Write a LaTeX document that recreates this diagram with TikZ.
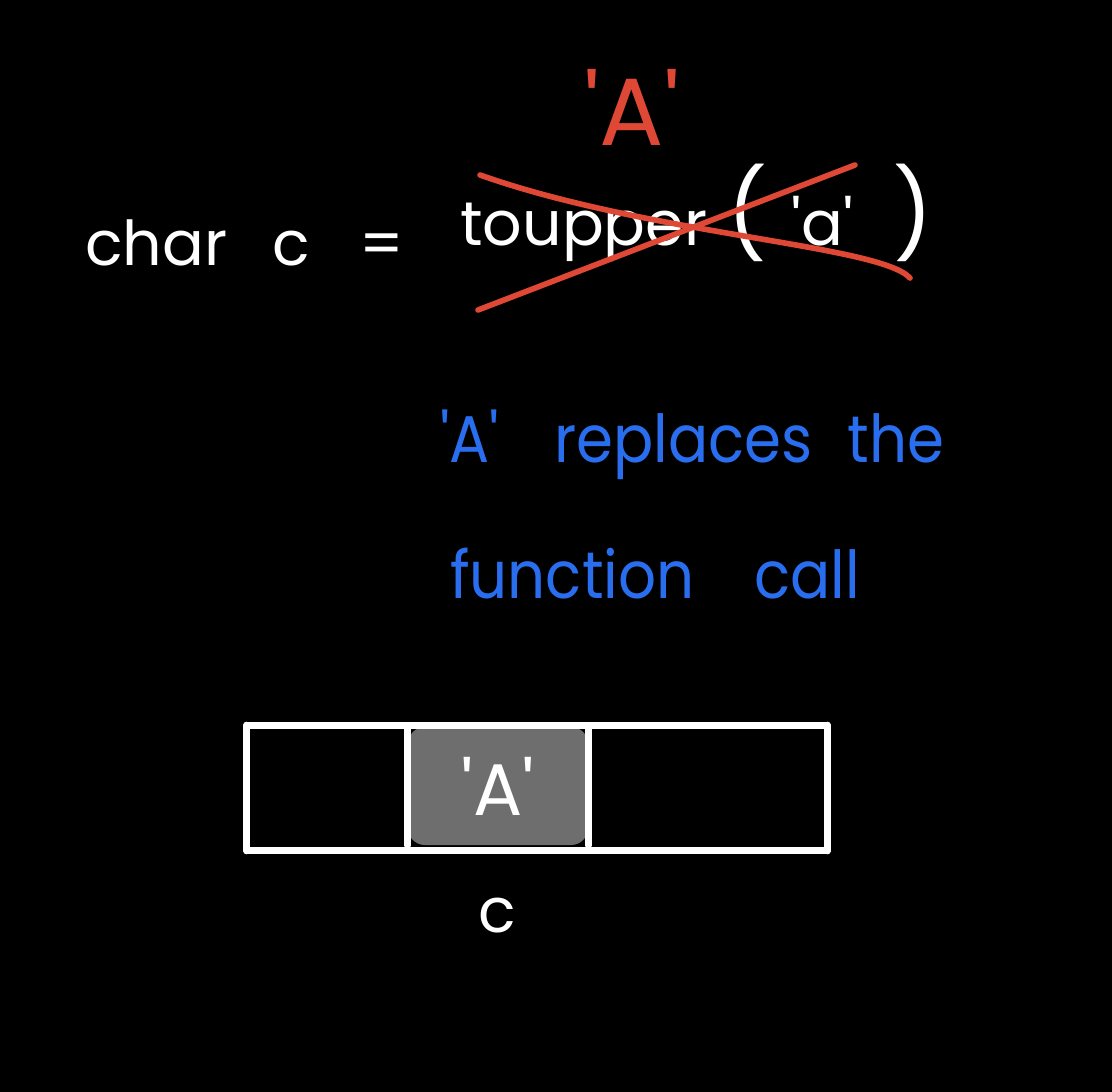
\documentclass[tikz,border=0pt]{standalone}
\usepackage{fontspec}
\newfontfamily\hand{Poppins}[Scale=1.0]
\newfontfamily\handnarrow{Poppins}[FakeStretch=0.9]
\usetikzlibrary{positioning, calc}
\definecolor{inkRed}  {RGB}{222, 72, 52}
\definecolor{inkBlue} {RGB}{ 42,110,240}
\definecolor{cellGray}{RGB}{110,110,110}
\newdimen\pxunit \pxunit=0.025cm
\newcommand{\gap}[1]{\hspace{#1\pxunit}}

\begin{document}
\begin{tikzpicture}[x=0.025cm, y=-0.025cm,
  chalk/.style={text=white, font=\hand\fontsize{44}{50}\selectfont, inner sep=0pt},
  note/.style={text=inkBlue, font=\handnarrow\fontsize{47}{52}\selectfont, inner sep=0pt},
  stroke/.style={white, line width=5pt, line cap=round, line join=round},
  strike/.style={inkRed, line width=4pt, line cap=round},
]

%% -- background --------------------------------------------------------------
\fill[black] (0,0) rectangle (1112,1092);
\useasboundingbox (0,0) rectangle (1112,1092);

%% -- the assignment ----------------------------------------------------------
\node[chalk, anchor=base west] (decl) at (85,265)
  {char\gap{45}c\gap{50}=};
\node[chalk, anchor=base west] (call) at (460,245)
  {toupper\gap{20}{\fontsize{62}{62}\selectfont(}\gap{25}'a'\gap{40}{\fontsize{62}{62}\selectfont)}};
\node[text=inkRed, font=\hand\fontsize{68}{70}\selectfont, inner sep=0pt,
      anchor=base] (val) at (632,145) {'A'};

% cross-out
\coordinate (x1) at (478,310);
\coordinate (x2) at (855,165);
\coordinate (x3) at (480,175);
\coordinate (x4) at (910,278);
\draw[strike] (x1) -- (x2);
\draw[strike] (x3) .. controls (650,235) and (880,245) .. (x4);

%% -- explanation -------------------------------------------------------------
\node[note, anchor=base west] (why1) at (440,462)
  {'A'\gap{55}replaces\gap{35}the};
\node[note, anchor=base west] (why2) at (450,598)
  {function\gap{60}call};

%% -- memory box for c --------------------------------------------------------
\node[draw=none, minimum width=580*0.025cm, minimum height=125*0.025cm,
      inner sep=0pt] (mem) at (537,788) {};
\node[fill=cellGray, rounded corners=12pt, minimum width=180*0.025cm,
      minimum height=118*0.025cm, inner sep=0pt] (cell) at (498,786) {};
\draw[stroke] (mem.north west) -- (mem.south west);
\draw[stroke] (mem.south west) -- (mem.south east);
\draw[stroke] (mem.south east) -- (mem.north east);
\draw[stroke] (mem.north east) -- (mem.north west);
\draw[stroke] (cell.north west) -- (cell.south west);
\draw[stroke] (cell.north east) -- (cell.south east);
\node[chalk, font=\hand\fontsize{52}{56}\selectfont] (cellval) at (cell) {'A'};
\node[chalk, anchor=base] (cname) at (497,932) {c};

\end{tikzpicture}
\end{document}
